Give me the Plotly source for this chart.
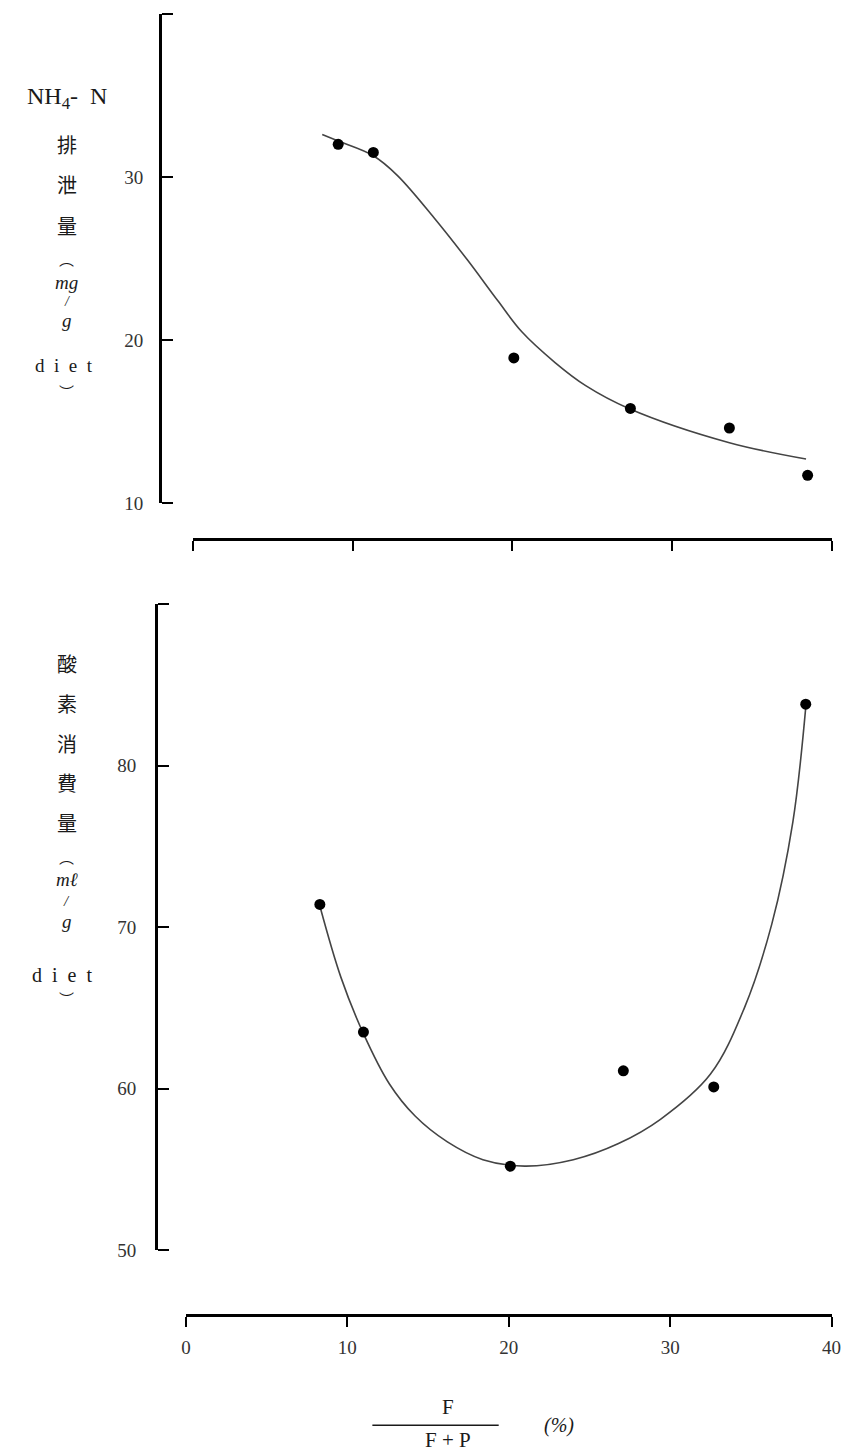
import plotly.graph_objects as go

# ---- data ----
# Top panel: NH4-N excretion (mg/g diet) vs F/(F+P) (%)
nh4_x = [9.1, 11.3, 20.1, 27.4, 33.6, 38.5]
nh4_y = [32.0, 31.5, 18.9, 15.8, 14.6, 11.7]
nh4_curve_x = [8.1, 9.1, 11.3, 12.8, 15.1, 17.2, 19.1, 20.6, 22.7, 24.6, 27.3, 33.6, 38.4]
nh4_curve_y = [32.6, 32.2, 31.3, 30.1, 27.5, 24.9, 22.4, 20.5, 18.6, 17.2, 15.8, 13.7, 12.7]

# Bottom panel: oxygen consumption (ml/g diet)
o2_x = [8.3, 11.0, 20.1, 27.1, 32.7, 38.4]
o2_y = [71.4, 63.5, 55.2, 61.1, 60.1, 83.8]
o2_curve_x = [8.3, 9.6, 11.0, 12.6, 14.2, 16.2, 18.4, 21.0, 24.0, 26.8, 29.4, 32.5, 34.6, 36.3, 37.6, 38.4]
o2_curve_y = [71.3, 66.9, 63.4, 60.3, 58.3, 56.7, 55.6, 55.2, 55.6, 56.6, 58.1, 60.9, 65.0, 70.2, 76.5, 83.6]

x_ticks = [0, 10, 20, 30, 40]
x_ticktext = ["0", "10", "20", "30", "40"]
top_y_labels = [10, 20, 30]
top_y_marks = [10, 20, 30, 40]
bot_y_labels = [50, 60, 70, 80]
bot_y_marks = [50, 60, 70, 80, 90]

W, H = 853, 1462
SERIF = "Liberation Serif, Times New Roman, serif"
CJK = "Noto Sans CJK JP"
INK = "#1a1a1a"
LINE = "#444444"

# calibration of the capture (measured): picture = a + s * page coordinate
SX, AX = 0.981, 5.6
SY, AY = 0.9923, 0.1

def px(x):
    return ((x - AX) / SX) / W

def py(y):
    return 1 - ((y - AY) / SY) / H

fig = go.Figure()

fig.add_trace(go.Scatter(x=nh4_curve_x, y=nh4_curve_y, mode="lines",
                         line=dict(color=LINE, width=1.6, shape="spline", smoothing=1.0),
                         xaxis="x", yaxis="y", showlegend=False, hoverinfo="skip"))
fig.add_trace(go.Scatter(x=nh4_x, y=nh4_y, mode="markers",
                         marker=dict(color="black", size=11),
                         xaxis="x", yaxis="y", showlegend=False))
fig.add_trace(go.Scatter(x=o2_curve_x, y=o2_curve_y, mode="lines",
                         line=dict(color=LINE, width=1.6, shape="spline", smoothing=1.0),
                         xaxis="x2", yaxis="y2", showlegend=False, hoverinfo="skip"))
fig.add_trace(go.Scatter(x=o2_x, y=o2_y, mode="markers",
                         marker=dict(color="black", size=11),
                         xaxis="x2", yaxis="y2", showlegend=False))

axis_common = dict(showline=True, linecolor="black", linewidth=2.6, showgrid=False,
                   zeroline=False, tickcolor="black", tickwidth=2,
                   tickfont=dict(family=SERIF, size=19, color="#333333"))

top_dom = [py(503), py(14)]
bot_dom = [py(1250), py(604)]

fig.update_layout(
    width=W, height=H, autosize=False,
    margin=dict(l=0, r=0, t=0, b=0),
    paper_bgcolor="white", plot_bgcolor="white",
    xaxis=dict(domain=[px(193), px(830)], range=[0, 40], anchor="free", position=py(539),
               tickmode="array", tickvals=x_ticks, showticklabels=False,
               ticks="outside", ticklen=10, **axis_common),
    yaxis=dict(domain=top_dom, range=[10, 40], anchor="free", position=px(160),
               tickmode="array", tickvals=top_y_labels,
               ticks="", ticklabelstandoff=12, **axis_common),
    # overlay axis used only for the right-pointing tick marks of the top y axis
    yaxis3=dict(domain=top_dom, range=[10, 40], anchor="free", position=px(160),
                overlaying="y", side="right", tickmode="array", tickvals=top_y_marks,
                showticklabels=False, ticks="outside", ticklen=11, **axis_common),
    xaxis2=dict(domain=[px(186), px(830)], range=[0, 40], anchor="free", position=py(1315),
                tickmode="array", tickvals=x_ticks, ticktext=x_ticktext,
                ticks="outside", ticklen=10, ticklabelstandoff=4, **axis_common),
    yaxis2=dict(domain=bot_dom, range=[50, 90], anchor="free", position=px(156),
                tickmode="array", tickvals=bot_y_labels,
                ticks="", ticklabelstandoff=15, **axis_common),
    yaxis4=dict(domain=bot_dom, range=[50, 90], anchor="free", position=px(156),
                overlaying="y2", side="right", tickmode="array", tickvals=bot_y_marks,
                showticklabels=False, ticks="outside", ticklen=11, **axis_common),
)

# invisible traces so the overlay axes are drawn
fig.add_trace(go.Scatter(x=[None], y=[None], xaxis="x", yaxis="y3", showlegend=False, hoverinfo="skip"))
fig.add_trace(go.Scatter(x=[None], y=[None], xaxis="x2", yaxis="y4", showlegend=False, hoverinfo="skip"))

def label(text, x, y, size=19, family=SERIF, italic=False):
    fig.add_annotation(text=text, x=px(x), y=py(y), xref="paper", yref="paper",
                       showarrow=False, xanchor="center", yanchor="middle",
                       font=dict(family=family, size=size, color=INK,
                                 style="italic" if italic else "normal"))

SP = "&nbsp;"
diet = "d" + SP * 2 + "i" + SP * 2 + "e" + SP * 2 + "t"

# top y-axis label
label("NH<sub>4</sub>-" + SP * 2 + "N", 67, 98, size=24)
label("排", 67, 145, size=20, family=CJK)
label("泄", 67, 185, size=20, family=CJK)
label("量", 67, 226, size=20, family=CJK)
label("︵", 67, 259, size=15, family=CJK)
label("mg", 67, 283, size=19, italic=True)
label("/", 67, 302, size=14, italic=True)
label("g", 67, 321, size=19, italic=True)
label(diet, 64, 366, size=19)
label("︶", 67, 392, size=15, family=CJK)

# bottom y-axis label
label("酸", 67, 663, size=20, family=CJK)
label("素", 67, 703, size=20, family=CJK)
label("消", 67, 743, size=20, family=CJK)
label("費", 67, 782, size=20, family=CJK)
label("量", 67, 822, size=20, family=CJK)
label("︵", 67, 856, size=15, family=CJK)
label("mℓ", 67, 879, size=19, italic=True)
label("/", 67, 901, size=15, italic=True)
label("g", 67, 921, size=19, italic=True)
label(diet, 62, 975, size=20)
label("︶", 67, 998, size=15, family=CJK)

# x-axis label: F / (F + P)  (%)
label("F", 447, 1407, size=21)
label("F + P", 447, 1440, size=21)
fig.add_shape(type="line", xref="paper", yref="paper",
              x0=px(372), x1=px(498), y0=py(1425), y1=py(1425),
              line=dict(color=INK, width=1.5))
label("(%)", 558, 1425, size=20, italic=True)

# remove the page's default body margin so the figure starts at the window corner
page_fix = ("document.documentElement.style.margin='0';"
            "document.documentElement.style.overflow='hidden';"
            "document.body.style.margin='0';"
            "document.body.style.overflow='hidden';")

fig.write_html("out.html", post_script=page_fix, config={"displayModeBar": False})
